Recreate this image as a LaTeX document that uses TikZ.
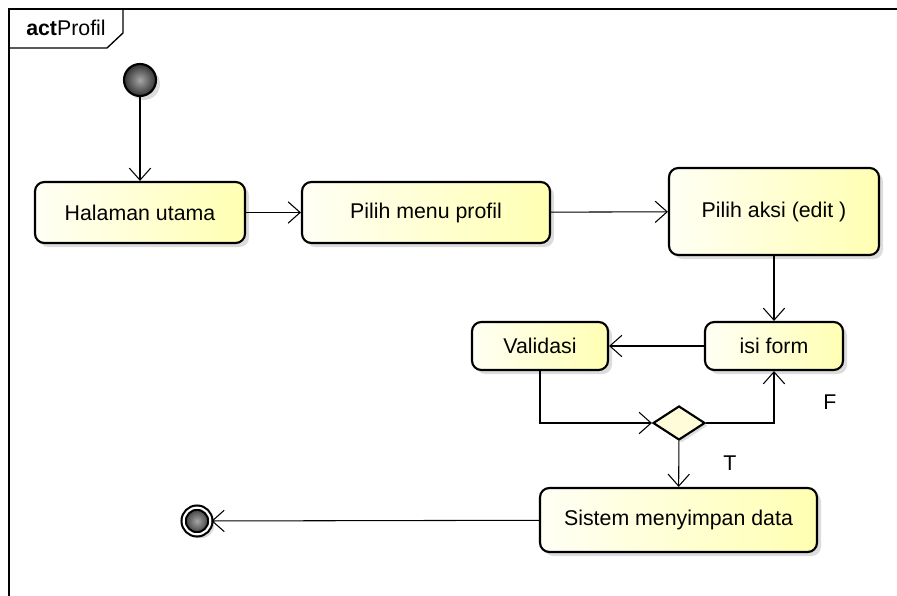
\documentclass[tikz,border=0pt]{standalone}
\usepackage{fontspec}
\setmainfont{Liberation Sans}
\usepackage{tikz}
\usetikzlibrary{shapes}
\usetikzlibrary{arrows.meta}
\usetikzlibrary{shadows}
\usetikzlibrary{positioning}
\tikzstyle{action}=[rectangle,rounded corners=7pt,draw=black,line width=1.6pt,left color=yellow!4,right color=yellow!30,inner sep=0mm,font=\fontsize{16}{18}\selectfont,drop shadow={shadow xshift=3pt,shadow yshift=-3pt,fill=black!30,opacity=.45}]
\tikzstyle{decision}=[diamond,draw=black,line width=1.6pt,fill=yellow!15,inner sep=0mm,minimum width=39pt,minimum height=25.5pt,drop shadow={shadow xshift=2pt,shadow yshift=-2pt,fill=black!30,opacity=.45}]
\tikzstyle{start}=[circle,draw=black,line width=1.6pt,inner color=black!35,outer color=black!80,inner sep=0mm,minimum size=24pt,drop shadow={shadow xshift=3pt,shadow yshift=-3pt,fill=black!30,opacity=.45}]
\tikzstyle{stop}=[circle,draw=black,line width=1.6pt,double=white,double distance=1.6pt,inner color=black!35,outer color=black!80,inner sep=0mm,minimum size=20pt,drop shadow={shadow xshift=3pt,shadow yshift=-3pt,fill=black!30,opacity=.45}]
\tikzstyle{flow}=[-{Straight Barb[length=9pt,width=16pt]},line width=0.8pt]
\tikzstyle{guard}=[inner sep=0mm,font=\fontsize{16}{18}\selectfont]

\begin{document}
\begin{tikzpicture}[x=0.75pt,y=-0.75pt]
        \useasboundingbox (0,0) rectangle (897,596);
        % frame
        \draw[line width=1pt] (9,596) -- (9,9) -- (897,9);
        \draw[line width=1pt] (123,9) -- (123,33) -- (107,48) -- (9,48);
        \node[anchor=west,inner sep=0mm,font=\fontsize{16}{18}\selectfont] (title) at (26,28) {\textbf{act}Profil};
        % nodes
        \node[start] (init) at (140,80) {};
        \node[action,minimum width=157.5pt,minimum height=45.75pt] (utama) at (140,212.5) {Halaman utama};
        \node[action,minimum width=186pt,minimum height=45.75pt] (menu) at (426,212.5) {Pilih menu profil};
        \node[action,minimum width=157.5pt,minimum height=65.25pt] (aksi) at (774,211.5) {Pilih aksi (edit )};
        \node[action,minimum width=103.5pt,minimum height=36pt] (isi) at (774,346) {isi form};
        \node[action,minimum width=102pt,minimum height=36pt] (valid) at (540,346) {Validasi};
        \node[decision] (cek) at (679,423) {};
        \node[action,minimum width=207.75pt,minimum height=48pt] (simpan) at (678.5,520) {Sistem menyimpan data};
        \node[stop] (end) at (197,521) {};
        \node[guard] (f) at (830,402) {F};
        \node[guard] (t) at (730,463) {T};
        % edges
        \draw[flow] (init) -- (utama);
        \draw[flow] (utama) -- (menu);
        \draw[flow] (menu) -- (aksi);
        \draw[flow] (aksi) -- (isi);
        \draw[flow] (isi) -- (valid);
        \draw[flow] (valid.south) |- (cek.west);
        \draw[flow] (cek.east) -| (isi.south);
        \draw[flow] (cek) -- (simpan);
        \draw[flow] (simpan) -- (end);
      \end{tikzpicture}
\end{document}
